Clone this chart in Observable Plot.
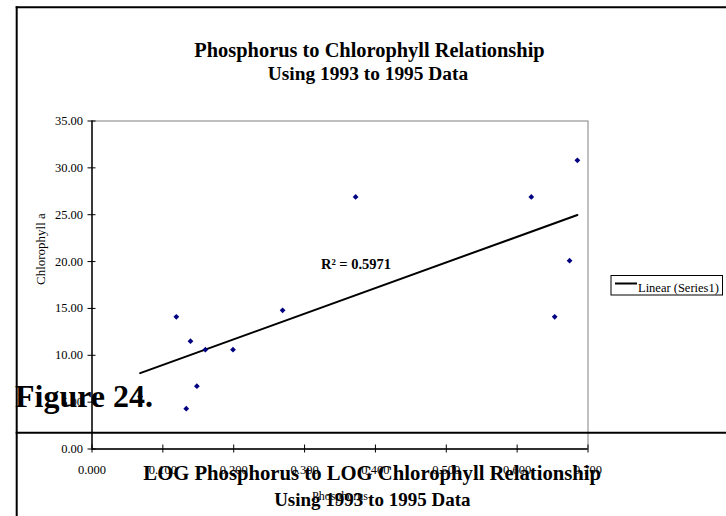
<!DOCTYPE html>
<html>
<head>
<meta charset="utf-8">
<script src="https://cdn.jsdelivr.net/npm/d3@7"></script>
<script src="https://cdn.jsdelivr.net/npm/@observablehq/plot@0.6"></script>
<style>
  html, body { margin: 0; padding: 0; background: #fff; }
  #wrap { position: relative; width: 726px; height: 516px; overflow: hidden; font-family: "Liberation Serif", "Times New Roman", serif; }
  #wrap svg { position: absolute; left: 0; top: 0; }
</style>
</head>
<body>
<div id="wrap"></div>
<script>
// ---- data ----
const phosphorus  = [0.068, 0.119, 0.139, 0.160, 0.199, 0.148, 0.133, 0.269, 0.372, 0.620, 0.685, 0.674, 0.653];
const chlorophyll = [5.6, 14.1, 11.5, 10.6, 10.6, 6.7, 4.3, 14.8, 26.9, 26.9, 30.8, 20.1, 14.1];
const xTicks = [0, 0.1, 0.2, 0.3, 0.4, 0.5, 0.6, 0.7];
const yTicks = [0, 5, 10, 15, 20, 25, 30, 35];
const title = "Phosphorus to Chlorophyll Relationship";
const subtitle = "Using 1993 to 1995 Data";
const nextTitle = "LOG Phosphorus to LOG Chlorophyll Relationship";
const nextSubtitle = "Using 1993 to 1995 Data";
const figureLabel = "Figure 24.";
const xLabel = "Phosphorus";
const yLabel = "Chlorophyll a";
const r2Text = "R² = 0.5971";
const r2Anchor = [{x: 0.3726, y: 19.7}];
const legendText = "Linear (Series1)";

const data = phosphorus.map((p, i) => ({x: p, y: chlorophyll[i]}));

const W = 726, H = 516;
const chart = Plot.plot({
  width: W,
  height: H,
  marginLeft: 91.5,
  marginRight: 138.5,
  marginTop: 120.5,
  marginBottom: 67.5,
  style: {fontFamily: "'Liberation Serif', 'Times New Roman', serif", fontSize: "12.5px", color: "#000", background: "transparent"},
  x: {domain: [0, 0.7]},
  y: {domain: [0, 35]},
  marks: [
    Plot.frame({stroke: "#808080", strokeWidth: 1}),
    Plot.ruleX([0], {stroke: "#000", strokeWidth: 1.4}),
    Plot.ruleY([0], {stroke: "#000", strokeWidth: 1.4}),
    Plot.axisY({ticks: yTicks, tickFormat: d3.format(".2f"), tickSize: 8, dx: 4, tickPadding: 5, label: null, stroke: "#000"}),
    Plot.axisX({ticks: xTicks, tickFormat: d3.format(".3f"), tickSize: 8, dy: -4, tickPadding: 12, label: null, stroke: "#000"}),
    Plot.text([yLabel], {frameAnchor: "left", rotate: -90, dx: -51, fontSize: 13, lineAnchor: "middle"}),
    Plot.text([xLabel], {frameAnchor: "bottom", dy: 47, fontSize: 12, lineAnchor: "middle"}),
    Plot.linearRegressionY(data, {x: "x", y: "y", ci: 0, stroke: "#000", strokeWidth: 2}),
    Plot.dot(data, {x: "x", y: "y", symbol: "diamond2", r: 2.6, fill: "#000080", stroke: "none"}),
    Plot.text(r2Anchor, {x: "x", y: "y", text: () => r2Text, fontWeight: "bold", fontSize: 14.5, lineAnchor: "middle"})
  ]
});
document.getElementById("wrap").appendChild(chart);

// ---- page decorations (titles, figure frame, legend) ----
const ov = d3.select("#wrap").append("svg")
  .attr("width", W).attr("height", H)
  .style("pointer-events", "none")
  .style("font-family", "'Liberation Serif', 'Times New Roman', serif");

ov.append("line").attr("x1", 16.7).attr("x2", 16.7).attr("y1", 6.3).attr("y2", H).attr("stroke", "#000").attr("stroke-width", 2);
ov.append("line").attr("x1", 15.7).attr("x2", W).attr("y1", 7.3).attr("y2", 7.3).attr("stroke", "#000").attr("stroke-width", 2);
ov.append("line").attr("x1", 15.7).attr("x2", W).attr("y1", 432.7).attr("y2", 432.7).attr("stroke", "#000").attr("stroke-width", 2);

ov.append("text").attr("x", 369.5).attr("y", 57).attr("text-anchor", "middle")
  .attr("font-weight", "bold").attr("font-size", 20.4).text(title);
ov.append("text").attr("x", 368).attr("y", 80).attr("text-anchor", "middle")
  .attr("font-weight", "bold").attr("font-size", 19.4).text(subtitle);

ov.append("text").attr("x", 15).attr("y", 407)
  .attr("font-weight", "bold").attr("font-size", 32).text(figureLabel);

ov.append("text").attr("x", 372.2).attr("y", 480).attr("text-anchor", "middle")
  .attr("font-weight", "bold").attr("font-size", 20.7).text(nextTitle);
ov.append("text").attr("x", 372.3).attr("y", 506).attr("text-anchor", "middle")
  .attr("font-weight", "bold").attr("font-size", 19).text(nextSubtitle);

const lg = ov.append("g");
lg.append("rect").attr("x", 611).attr("y", 275.5).attr("width", 111.5).attr("height", 19.5)
  .attr("fill", "#fff").attr("stroke", "#000").attr("stroke-width", 1);
lg.append("line").attr("x1", 615).attr("x2", 637).attr("y1", 283.5).attr("y2", 283.5)
  .attr("stroke", "#000").attr("stroke-width", 2);
lg.append("text").attr("x", 638).attr("y", 292).attr("font-size", 12.5).text(legendText);
</script>
</body>
</html>
